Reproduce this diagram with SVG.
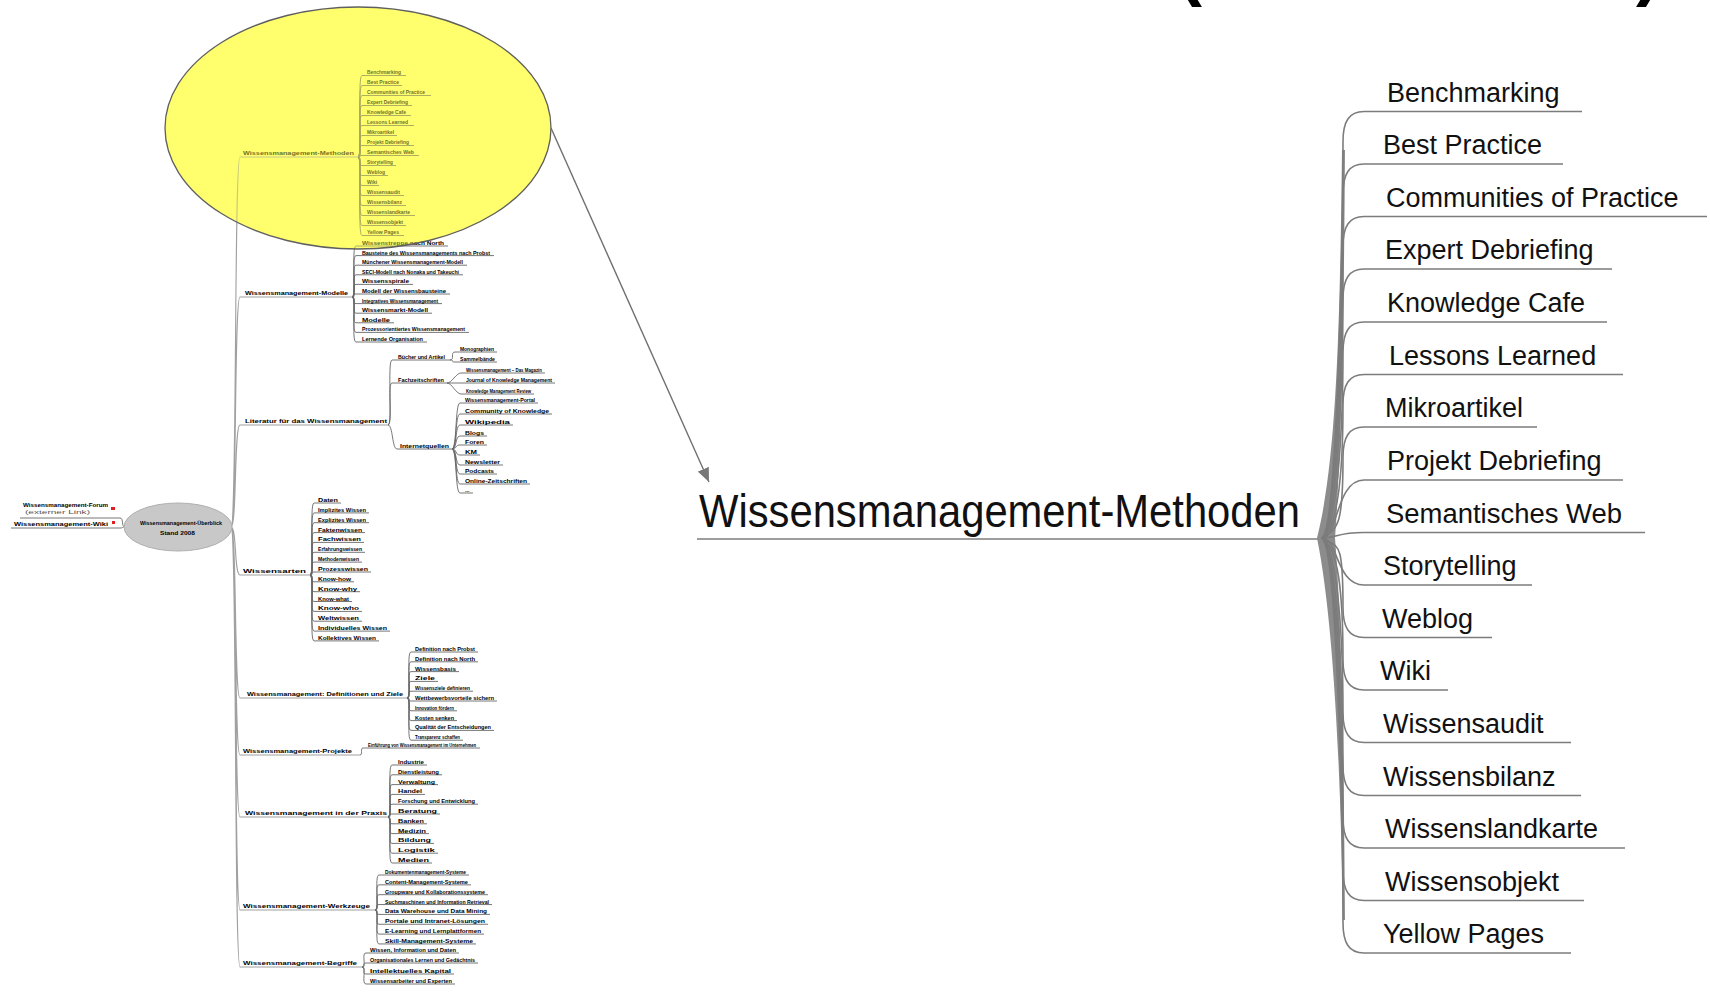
<svg xmlns="http://www.w3.org/2000/svg" width="1710" height="994" viewBox="0 0 1710 994">
<defs>
<style>
text{font-family:"Liberation Sans",Arial,sans-serif;}
.big{font-size:27px;fill:#111;}
.title{font-size:47px;fill:#111;}
.par{font-size:72px;font-weight:bold;fill:#000;}
.m{font-size:5.3px;fill:#000;font-weight:bold;}
.mb{font-size:6px;fill:#000;font-weight:bold;}
.bl{stroke:#7c7c7c;stroke-width:1.6;fill:none;}
.ml{stroke:#666;stroke-width:0.9;fill:none;}
.mt{stroke:#a0a0a0;stroke-width:1.1;fill:none;}
</style>
<marker id="ah" viewBox="0 0 14 12" refX="14" refY="6" markerWidth="14" markerHeight="12" orient="auto" markerUnits="userSpaceOnUse"><path d="M0,0 L14,6 L0,12 Z" fill="#777"/></marker>
</defs>
<rect width="1710" height="994" fill="#fff"/>

<!-- cut-off title parentheses -->
<text class="par" x="1178" y="-8">(</text>
<text class="par" x="1636" y="-8">)</text>

<!-- highlight ellipse base (behind the map) -->
<ellipse cx="358" cy="128" rx="193" ry="121" fill="#ffff80"/>

<!-- ===== mini map ===== -->
<g id="mini-connectors">
<path class="mt" d="M231,527 C237,527 234,157 240,157 L358,157 M231,527 C237,527 234,297 240,297 L352,297 M231,527 C237,527 234,425 240,425 L388,425 M231,527 C237,527 234,575 240,575 L310,575 M231,527 C237,527 234,698 240,698 L407,698 M231,527 C237,527 234,755 240,755 L360,755 M231,527 C237,527 234,817 240,817 L388,817 M231,527 C237,527 234,910 240,910 L375,910 M231,527 C237,527 234,967 240,967 L362,967"/>
<path class="ml" d="M125,527 C121,527 124,518 120,518 L20,518 M125,527 C121,527 124,528 120,528 L11,528"/>
<path class="ml" d="M358,157 C363,157 357,75.5 362,75.5 L406,75.5 M358,157 C363,157 357,85.5 362,85.5 L402,85.5 M358,157 C363,157 357,95.5 362,95.5 L431,95.5 M358,157 C363,157 357,105.5 362,105.5 L412,105.5 M358,157 C363,157 357,115.5 362,115.5 L411,115.5 M358,157 C363,157 357,125.5 362,125.5 L414,125.5 M358,157 C363,157 357,135.5 362,135.5 L397,135.5 M358,157 C363,157 357,145.5 362,145.5 L414,145.5 M358,157 C363,157 357,155.5 362,155.5 L419,155.5 M358,157 C363,157 357,165.5 362,165.5 L396,165.5 M358,157 C363,157 357,175.5 362,175.5 L388,175.5 M358,157 C363,157 357,185.5 362,185.5 L379,185.5 M358,157 C363,157 357,195.5 362,195.5 L404,195.5 M358,157 C363,157 357,205.5 362,205.5 L406,205.5 M358,157 C363,157 357,215.5 362,215.5 L415,215.5 M358,157 C363,157 357,225.5 362,225.5 L406,225.5 M358,157 C363,157 357,235.5 362,235.5 L404,235.5"/>
<path class="ml" d="M352,297 C357,297 351,246 356,246 L448,246 M352,297 C357,297 351,255.6 356,255.6 L494,255.6 M352,297 C357,297 351,265.2 356,265.2 L467,265.2 M352,297 C357,297 351,274.8 356,274.8 L463,274.8 M352,297 C357,297 351,284.4 356,284.4 L413,284.4 M352,297 C357,297 351,294 356,294 L450,294 M352,297 C357,297 351,303.6 356,303.6 L442,303.6 M352,297 C357,297 351,313.2 356,313.2 L432,313.2 M352,297 C357,297 351,322.8 356,322.8 L394,322.8 M352,297 C357,297 351,332.4 356,332.4 L469,332.4 M352,297 C357,297 351,342 356,342 L427,342"/>
<path class="ml" d="M388,425 C393,425 387,360 392,360 L450,360 M388,425 C393,425 387,383 392,383 L447,383 M388,425 C393,425 392,449 397,449 L452,449"/>
<path class="ml" d="M450,360 C455,360 450,352 455,352 L497,352 M450,360 C455,360 450,362 455,362 L497,362 M447,383 C452,383 456,373 461,373 L545,373 M447,383 L555,383 M447,383 C452,383 456,394 461,394 L534,394"/>
<path class="ml" d="M452,449 C457,449 455,403 460,403 L538,403 M452,449 C457,449 455,414 460,414 L552,414 M452,449 C457,449 455,425 460,425 L513,425 M452,449 C457,449 455,436 460,436 L487,436 M452,449 C457,449 455,445 460,445 L487,445 M452,449 C457,449 455,455 460,455 L480,455 M452,449 C457,449 455,465 460,465 L503,465 M452,449 C457,449 455,474 460,474 L497,474 M452,449 C457,449 455,484 460,484 L530,484 M452,449 C457,449 455,493 460,493 L473,493"/>
<path class="ml" d="M310,575 C315,575 309,503 314,503 L341,503 M310,575 C315,575 309,512.9 314,512.9 L369,512.9 M310,575 C315,575 309,522.7 314,522.7 L369,522.7 M310,575 C315,575 309,532.6 314,532.6 L365,532.6 M310,575 C315,575 309,542.4 314,542.4 L364,542.4 M310,575 C315,575 309,552.3 314,552.3 L365,552.3 M310,575 C315,575 309,562.1 314,562.1 L362,562.1 M310,575 C315,575 309,572 314,572 L371,572 M310,575 C315,575 309,581.8 314,581.8 L354,581.8 M310,575 C315,575 309,591.7 314,591.7 L360,591.7 M310,575 C315,575 309,601.5 314,601.5 L352,601.5 M310,575 C315,575 309,611.4 314,611.4 L362,611.4 M310,575 C315,575 309,621.2 314,621.2 L362,621.2 M310,575 C315,575 309,631.1 314,631.1 L390,631.1 M310,575 C315,575 309,640.9 314,640.9 L379,640.9"/>
<path class="ml" d="M407,698 C412,698 406,652 411,652 L478,652 M407,698 C412,698 406,661.8 411,661.8 L478,661.8 M407,698 C412,698 406,671.6 411,671.6 L459,671.6 M407,698 C412,698 406,681.4 411,681.4 L438,681.4 M407,698 C412,698 406,691.2 411,691.2 L473,691.2 M407,698 C412,698 406,701 411,701 L497,701 M407,698 C412,698 406,710.8 411,710.8 L457,710.8 M407,698 C412,698 406,720.6 411,720.6 L457,720.6 M407,698 C412,698 406,730.4 411,730.4 L494,730.4 M407,698 C412,698 406,740.2 411,740.2 L463,740.2"/>
<path class="ml" d="M360,755 C363,755 360,748 363,748 L480,748"/>
<path class="ml" d="M388,817 C393,817 387,765 392,765 L427,765 M388,817 C393,817 387,774.8 392,774.8 L442,774.8 M388,817 C393,817 387,784.6 392,784.6 L438,784.6 M388,817 C393,817 387,794.4 392,794.4 L425,794.4 M388,817 C393,817 387,804.2 392,804.2 L478,804.2 M388,817 C393,817 387,814 392,814 L440,814 M388,817 C393,817 387,823.8 392,823.8 L427,823.8 M388,817 C393,817 387,833.6 392,833.6 L429,833.6 M388,817 C393,817 387,843.4 392,843.4 L434,843.4 M388,817 C393,817 387,853.2 392,853.2 L438,853.2 M388,817 C393,817 387,863 392,863 L432,863"/>
<path class="ml" d="M375,910 C380,910 374,875 379,875 L469,875 M375,910 C380,910 374,884.85 379,884.85 L471,884.85 M375,910 C380,910 374,894.7 379,894.7 L488,894.7 M375,910 C380,910 374,904.55 379,904.55 L492,904.55 M375,910 C380,910 374,914.4 379,914.4 L490,914.4 M375,910 C380,910 374,924.25 379,924.25 L488,924.25 M375,910 C380,910 374,934.1 379,934.1 L484,934.1 M375,910 C380,910 374,943.95 379,943.95 L476,943.95"/>
<path class="ml" d="M362,967 C367,967 361,953 366,953 L459,953 M362,967 C367,967 361,963 366,963 L478,963 M362,967 C367,967 361,974 366,974 L454,974 M362,967 C367,967 361,984 366,984 L455,984"/>
</g>

<g id="mini-root">
<ellipse cx="178" cy="527" rx="54" ry="24" fill="#c8c8c8" stroke="#b0b0b0" stroke-width="1"/>
<text class="m" x="140" y="525" textLength="82" lengthAdjust="spacingAndGlyphs">Wissensmanagement-Überblick</text>
<text class="m" x="160" y="535" textLength="35" lengthAdjust="spacingAndGlyphs">Stand 2008</text>
</g>
<g id="mini-links">
<text class="m" x="23" y="507" textLength="85" lengthAdjust="spacingAndGlyphs">Wissensmanagement-Forum</text>
<text class="m" x="25" y="514" textLength="65" lengthAdjust="spacingAndGlyphs" style="font-size:4.5px;fill:#555;font-weight:normal">(externer Link)</text>
<text class="m" x="14" y="525.5" textLength="94" lengthAdjust="spacingAndGlyphs">Wissensmanagement-Wiki</text>
<rect x="111" y="507" width="4" height="3" fill="#e02020"/>
<rect x="112" y="521" width="3" height="3" fill="#e02020"/>
</g>

<g id="mini-b1">
<text class="mb" x="243" y="155" textLength="111" lengthAdjust="spacingAndGlyphs">Wissensmanagement-Methoden</text>
<text class="m" x="367" y="74" textLength="34" lengthAdjust="spacingAndGlyphs">Benchmarking</text>
<text class="m" x="367" y="84" textLength="32" lengthAdjust="spacingAndGlyphs">Best Practice</text>
<text class="m" x="367" y="94" textLength="58" lengthAdjust="spacingAndGlyphs">Communities of Practice</text>
<text class="m" x="367" y="104" textLength="41" lengthAdjust="spacingAndGlyphs">Expert Debriefing</text>
<text class="m" x="367" y="114" textLength="39" lengthAdjust="spacingAndGlyphs">Knowledge Cafe</text>
<text class="m" x="367" y="124" textLength="41" lengthAdjust="spacingAndGlyphs">Lessons Learned</text>
<text class="m" x="367" y="134" textLength="27" lengthAdjust="spacingAndGlyphs">Mikroartikel</text>
<text class="m" x="367" y="144" textLength="42" lengthAdjust="spacingAndGlyphs">Projekt Debriefing</text>
<text class="m" x="367" y="154" textLength="47" lengthAdjust="spacingAndGlyphs">Semantisches Web</text>
<text class="m" x="367" y="164" textLength="26" lengthAdjust="spacingAndGlyphs">Storytelling</text>
<text class="m" x="367" y="174" textLength="18" lengthAdjust="spacingAndGlyphs">Weblog</text>
<text class="m" x="367" y="184" textLength="10" lengthAdjust="spacingAndGlyphs">Wiki</text>
<text class="m" x="367" y="194" textLength="33" lengthAdjust="spacingAndGlyphs">Wissensaudit</text>
<text class="m" x="367" y="204" textLength="35" lengthAdjust="spacingAndGlyphs">Wissensbilanz</text>
<text class="m" x="367" y="214" textLength="43" lengthAdjust="spacingAndGlyphs">Wissenslandkarte</text>
<text class="m" x="367" y="224" textLength="36" lengthAdjust="spacingAndGlyphs">Wissensobjekt</text>
<text class="m" x="367" y="234" textLength="32" lengthAdjust="spacingAndGlyphs">Yellow Pages</text>
</g>

<g id="mini-b2">
<text class="mb" x="245" y="294.5" textLength="103" lengthAdjust="spacingAndGlyphs">Wissensmanagement-Modelle</text>
<text class="m" x="362" y="245" textLength="82" lengthAdjust="spacingAndGlyphs">Wissenstreppe nach North</text>
<text class="m" x="362" y="254.6" textLength="128" lengthAdjust="spacingAndGlyphs">Bausteine des Wissensmanagements nach Probst</text>
<text class="m" x="362" y="264.2" textLength="101" lengthAdjust="spacingAndGlyphs">Münchener Wissensmanagement-Modell</text>
<text class="m" x="362" y="273.8" textLength="97" lengthAdjust="spacingAndGlyphs">SECI-Modell nach Nonaka und Takeuchi</text>
<text class="m" x="362" y="283.4" textLength="47" lengthAdjust="spacingAndGlyphs">Wissensspirale</text>
<text class="m" x="362" y="293" textLength="84" lengthAdjust="spacingAndGlyphs">Modell der Wissensbausteine</text>
<text class="m" x="362" y="302.6" textLength="76" lengthAdjust="spacingAndGlyphs">Integratives Wissensmanagement</text>
<text class="m" x="362" y="312.2" textLength="66" lengthAdjust="spacingAndGlyphs">Wissensmarkt-Modell</text>
<text class="m" x="362" y="321.8" textLength="28" lengthAdjust="spacingAndGlyphs">Modelle</text>
<text class="m" x="362" y="331.4" textLength="103" lengthAdjust="spacingAndGlyphs">Prozessorientiertes Wissensmanagement</text>
<text class="m" x="362" y="341" textLength="61" lengthAdjust="spacingAndGlyphs">Lernende Organisation</text>
</g>

<g id="mini-b3">
<text class="mb" x="245" y="423" textLength="142" lengthAdjust="spacingAndGlyphs">Literatur für das Wissensmanagement</text>
<text class="m" x="398" y="358.5" textLength="47" lengthAdjust="spacingAndGlyphs">Bücher und Artikel</text>
<text class="m" x="460" y="351" textLength="34" lengthAdjust="spacingAndGlyphs">Monographien</text>
<text class="m" x="460" y="361" textLength="35" lengthAdjust="spacingAndGlyphs">Sammelbände</text>
<text class="m" x="398" y="381.5" textLength="46" lengthAdjust="spacingAndGlyphs">Fachzeitschriften</text>
<text class="m" x="466" y="372" textLength="76" lengthAdjust="spacingAndGlyphs">Wissensmanagement – Das Magazin</text>
<text class="m" x="466" y="382" textLength="86" lengthAdjust="spacingAndGlyphs">Journal of Knowledge Management</text>
<text class="m" x="466" y="393" textLength="65" lengthAdjust="spacingAndGlyphs">Knowledge Management Review</text>
<text class="m" x="400" y="447.5" textLength="49" lengthAdjust="spacingAndGlyphs">Internetquellen</text>
<text class="m" x="465" y="402" textLength="70" lengthAdjust="spacingAndGlyphs">Wissensmanagement-Portal</text>
<text class="m" x="465" y="413" textLength="84" lengthAdjust="spacingAndGlyphs">Community of Knowledge</text>
<text class="m" x="465" y="424" textLength="45" lengthAdjust="spacingAndGlyphs">Wikipedia</text>
<text class="m" x="465" y="435" textLength="19" lengthAdjust="spacingAndGlyphs">Blogs</text>
<text class="m" x="465" y="444" textLength="19" lengthAdjust="spacingAndGlyphs">Foren</text>
<text class="m" x="465" y="454" textLength="12" lengthAdjust="spacingAndGlyphs">KM</text>
<text class="m" x="465" y="464" textLength="35" lengthAdjust="spacingAndGlyphs">Newsletter</text>
<text class="m" x="465" y="473" textLength="29" lengthAdjust="spacingAndGlyphs">Podcasts</text>
<text class="m" x="465" y="483" textLength="62" lengthAdjust="spacingAndGlyphs">Online-Zeitschriften</text>
<text class="m" x="465" y="492">...</text>
</g>

<g id="mini-b4">
<text class="mb" x="243" y="572.5" textLength="63" lengthAdjust="spacingAndGlyphs">Wissensarten</text>
<text class="m" x="318" y="502" textLength="20" lengthAdjust="spacingAndGlyphs">Daten</text>
<text class="m" x="318" y="511.9" textLength="48" lengthAdjust="spacingAndGlyphs">Implizites Wissen</text>
<text class="m" x="318" y="521.7" textLength="48" lengthAdjust="spacingAndGlyphs">Explizites Wissen</text>
<text class="m" x="318" y="531.6" textLength="44" lengthAdjust="spacingAndGlyphs">Faktenwissen</text>
<text class="m" x="318" y="541.4" textLength="43" lengthAdjust="spacingAndGlyphs">Fachwissen</text>
<text class="m" x="318" y="551.3" textLength="44" lengthAdjust="spacingAndGlyphs">Erfahrungswissen</text>
<text class="m" x="318" y="561.1" textLength="41" lengthAdjust="spacingAndGlyphs">Methodenwissen</text>
<text class="m" x="318" y="571" textLength="50" lengthAdjust="spacingAndGlyphs">Prozesswissen</text>
<text class="m" x="318" y="580.8" textLength="33" lengthAdjust="spacingAndGlyphs">Know-how</text>
<text class="m" x="318" y="590.7" textLength="39" lengthAdjust="spacingAndGlyphs">Know-why</text>
<text class="m" x="318" y="600.5" textLength="31" lengthAdjust="spacingAndGlyphs">Know-what</text>
<text class="m" x="318" y="610.4" textLength="41" lengthAdjust="spacingAndGlyphs">Know-who</text>
<text class="m" x="318" y="620.2" textLength="41" lengthAdjust="spacingAndGlyphs">Weltwissen</text>
<text class="m" x="318" y="630.1" textLength="69" lengthAdjust="spacingAndGlyphs">Individuelles Wissen</text>
<text class="m" x="318" y="639.9" textLength="58" lengthAdjust="spacingAndGlyphs">Kollektives Wissen</text>
</g>

<g id="mini-b5">
<text class="mb" x="247" y="695.5" textLength="156" lengthAdjust="spacingAndGlyphs">Wissensmanagement: Definitionen und Ziele</text>
<text class="m" x="415" y="651" textLength="60" lengthAdjust="spacingAndGlyphs">Definition nach Probst</text>
<text class="m" x="415" y="660.8" textLength="60" lengthAdjust="spacingAndGlyphs">Definition nach North</text>
<text class="m" x="415" y="670.6" textLength="41" lengthAdjust="spacingAndGlyphs">Wissensbasis</text>
<text class="m" x="415" y="680.4" textLength="20" lengthAdjust="spacingAndGlyphs">Ziele</text>
<text class="m" x="415" y="690.2" textLength="55" lengthAdjust="spacingAndGlyphs">Wissensziele definieren</text>
<text class="m" x="415" y="700" textLength="79" lengthAdjust="spacingAndGlyphs">Wettbewerbsvorteile sichern</text>
<text class="m" x="415" y="709.8" textLength="39" lengthAdjust="spacingAndGlyphs">Innovation fördern</text>
<text class="m" x="415" y="719.6" textLength="39" lengthAdjust="spacingAndGlyphs">Kosten senken</text>
<text class="m" x="415" y="729.4" textLength="76" lengthAdjust="spacingAndGlyphs">Qualität der Entscheidungen</text>
<text class="m" x="415" y="739.2" textLength="45" lengthAdjust="spacingAndGlyphs">Transparenz schaffen</text>
</g>

<g id="mini-b6">
<text class="mb" x="243" y="752.5" textLength="109" lengthAdjust="spacingAndGlyphs">Wissensmanagement-Projekte</text>
<text class="m" x="368" y="746.5" textLength="108" lengthAdjust="spacingAndGlyphs">Einführung von Wissensmanagement im Unternehmen</text>
</g>

<g id="mini-b7">
<text class="mb" x="245" y="814.5" textLength="142" lengthAdjust="spacingAndGlyphs">Wissensmanagement in der Praxis</text>
<text class="m" x="398" y="764" textLength="26" lengthAdjust="spacingAndGlyphs">Industrie</text>
<text class="m" x="398" y="773.8" textLength="41" lengthAdjust="spacingAndGlyphs">Dienstleistung</text>
<text class="m" x="398" y="783.6" textLength="37" lengthAdjust="spacingAndGlyphs">Verwaltung</text>
<text class="m" x="398" y="793.4" textLength="24" lengthAdjust="spacingAndGlyphs">Handel</text>
<text class="m" x="398" y="803.2" textLength="77" lengthAdjust="spacingAndGlyphs">Forschung und Entwicklung</text>
<text class="m" x="398" y="813" textLength="39" lengthAdjust="spacingAndGlyphs">Beratung</text>
<text class="m" x="398" y="822.8" textLength="26" lengthAdjust="spacingAndGlyphs">Banken</text>
<text class="m" x="398" y="832.6" textLength="28" lengthAdjust="spacingAndGlyphs">Medizin</text>
<text class="m" x="398" y="842.4" textLength="33" lengthAdjust="spacingAndGlyphs">Bildung</text>
<text class="m" x="398" y="852.2" textLength="37" lengthAdjust="spacingAndGlyphs">Logistik</text>
<text class="m" x="398" y="862" textLength="31" lengthAdjust="spacingAndGlyphs">Medien</text>
</g>

<g id="mini-b8">
<text class="mb" x="243" y="907.5" textLength="127" lengthAdjust="spacingAndGlyphs">Wissensmanagement-Werkzeuge</text>
<text class="m" x="385" y="874" textLength="81" lengthAdjust="spacingAndGlyphs">Dokumentenmanagement-Systeme</text>
<text class="m" x="385" y="883.85" textLength="83" lengthAdjust="spacingAndGlyphs">Content-Management-Systeme</text>
<text class="m" x="385" y="893.7" textLength="100" lengthAdjust="spacingAndGlyphs">Groupware und Kollaborationssysteme</text>
<text class="m" x="385" y="903.55" textLength="104" lengthAdjust="spacingAndGlyphs">Suchmaschinen und Information Retrieval</text>
<text class="m" x="385" y="913.4" textLength="102" lengthAdjust="spacingAndGlyphs">Data Warehouse und Data Mining</text>
<text class="m" x="385" y="923.25" textLength="100" lengthAdjust="spacingAndGlyphs">Portale und Intranet-Lösungen</text>
<text class="m" x="385" y="933.1" textLength="96" lengthAdjust="spacingAndGlyphs">E-Learning und Lernplattformen</text>
<text class="m" x="385" y="942.95" textLength="88" lengthAdjust="spacingAndGlyphs">Skill-Management-Systeme</text>
</g>

<g id="mini-b9">
<text class="mb" x="243" y="964.5" textLength="114" lengthAdjust="spacingAndGlyphs">Wissensmanagement-Begriffe</text>
<text class="m" x="370" y="952" textLength="86" lengthAdjust="spacingAndGlyphs">Wissen, Information und Daten</text>
<text class="m" x="370" y="962" textLength="105" lengthAdjust="spacingAndGlyphs">Organisationales Lernen und Gedächtnis</text>
<text class="m" x="370" y="973" textLength="81" lengthAdjust="spacingAndGlyphs">Intellektuelles Kapital</text>
<text class="m" x="370" y="983" textLength="82" lengthAdjust="spacingAndGlyphs">Wissensarbeiter und Experten</text>
</g>

<g id="highlight">
<ellipse cx="358" cy="128" rx="193" ry="121" fill="#ffff55" fill-opacity="0.42" stroke="#5f5f5f" stroke-width="1.3"/>
</g>

<g id="connectors">
<line x1="551" y1="128" x2="709" y2="482" stroke="#6f6f6f" stroke-width="1.4" marker-end="url(#ah)"/>
<path class="bl" d="M697,539 L1322,539"/>
<path d="M1342,150 C1340,320 1337,460 1317,538 C1334,620 1341,780 1343,920 L1345,920 C1344,780 1342,620 1335,538 C1341,460 1344,320 1345,150 Z" fill="#8c8c8c"/>
<path class="bl" d="M1322,538 C1338,528 1343,211.5 1343,141.5 C1343,121.5 1349,111.5 1364,111.5 L1582,111.5"/>
<path class="bl" d="M1322,538 C1338,528 1343,264 1343,194 C1343,174 1349,164 1364,164 L1563,164"/>
<path class="bl" d="M1322,538 C1338,528 1343,316.5 1343,246.5 C1343,226.5 1349,216.5 1364,216.5 L1707,216.5"/>
<path class="bl" d="M1322,538 C1338,528 1343,369 1343,299 C1343,279 1349,269 1364,269 L1612,269"/>
<path class="bl" d="M1322,538 C1338,528 1343,422 1343,352 C1343,332 1349,322 1364,322 L1607,322"/>
<path class="bl" d="M1322,538 C1338,528 1343,474.5 1343,404.5 C1343,384.5 1349,374.5 1364,374.5 L1623,374.5"/>
<path class="bl" d="M1322,538 C1338,528 1343,527 1343,457 C1343,437 1349,427 1364,427 L1537,427"/>
<path class="bl" d="M1322,538 C1338,538 1336,480 1364,480 L1623,480"/>
<path class="bl" d="M1322,538 C1338,538 1336,532.5 1364,532.5 L1645,532.5"/>
<path class="bl" d="M1322,538 C1338,538 1336,585 1364,585 L1532,585"/>
<path class="bl" d="M1322,538 C1338,548 1343,537.5 1343,607.5 C1343,627.5 1349,637.5 1364,637.5 L1492,637.5"/>
<path class="bl" d="M1322,538 C1338,548 1343,590 1343,660 C1343,680 1349,690 1364,690 L1448,690"/>
<path class="bl" d="M1322,538 C1338,548 1343,642.5 1343,712.5 C1343,732.5 1349,742.5 1364,742.5 L1571,742.5"/>
<path class="bl" d="M1322,538 C1338,548 1343,695.5 1343,765.5 C1343,785.5 1349,795.5 1364,795.5 L1581,795.5"/>
<path class="bl" d="M1322,538 C1338,548 1343,748 1343,818 C1343,838 1349,848 1364,848 L1625,848"/>
<path class="bl" d="M1322,538 C1338,548 1343,800.5 1343,870.5 C1343,890.5 1349,900.5 1364,900.5 L1584,900.5"/>
<path class="bl" d="M1322,538 C1338,548 1343,853 1343,923 C1343,943 1349,953 1364,953 L1571,953"/>
</g>

<g id="center-node"><text class="title" x="699" y="527" textLength="601" lengthAdjust="spacingAndGlyphs">Wissensmanagement-Methoden</text></g>
<g id="n-benchmarking"><text class="big" x="1387" y="101.5">Benchmarking</text></g>
<g id="n-best-practice"><text class="big" x="1383" y="154">Best Practice</text></g>
<g id="n-communities"><text class="big" x="1386" y="206.5">Communities of Practice</text></g>
<g id="n-expert"><text class="big" x="1385" y="259">Expert Debriefing</text></g>
<g id="n-knowledge-cafe"><text class="big" x="1387" y="312">Knowledge Cafe</text></g>
<g id="n-lessons"><text class="big" x="1389" y="364.5">Lessons Learned</text></g>
<g id="n-mikroartikel"><text class="big" x="1385" y="417">Mikroartikel</text></g>
<g id="n-projekt"><text class="big" x="1387" y="470">Projekt Debriefing</text></g>
<g id="n-semantisches"><text class="big" x="1386" y="522.5" textLength="236" lengthAdjust="spacingAndGlyphs">Semantisches Web</text></g>
<g id="n-storytelling"><text class="big" x="1383" y="575">Storytelling</text></g>
<g id="n-weblog"><text class="big" x="1382" y="627.5">Weblog</text></g>
<g id="n-wiki"><text class="big" x="1380" y="680">Wiki</text></g>
<g id="n-wissensaudit"><text class="big" x="1383" y="732.5">Wissensaudit</text></g>
<g id="n-wissensbilanz"><text class="big" x="1383" y="785.5">Wissensbilanz</text></g>
<g id="n-wissenslandkarte"><text class="big" x="1385" y="838">Wissenslandkarte</text></g>
<g id="n-wissensobjekt"><text class="big" x="1385" y="890.5">Wissensobjekt</text></g>
<g id="n-yellow-pages"><text class="big" x="1383" y="943">Yellow Pages</text></g>
</svg>
